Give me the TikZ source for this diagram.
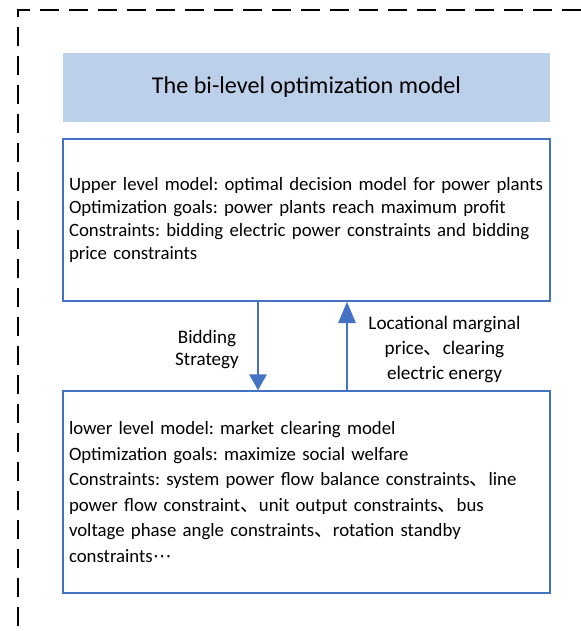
\documentclass[tikz,border=0pt]{standalone}
\usepackage{fontspec}
\setmainfont{Carlito}
\newfontfamily\cjkfont{Noto Sans CJK SC}
\newfontfamily\symfont{DejaVu Sans}
\usepackage{tikz}
\usetikzlibrary{arrows.meta}
\frenchspacing

\definecolor{boxblue}{HTML}{4472C4}
\definecolor{titlefill}{HTML}{BDD0E9}
\newcommand{\dunhao}{{\cjkfont 、}}
\newcommand{\middots}{{\symfont ⋯}}

\begin{document}
\begin{tikzpicture}[x = 0.75pt, y = -0.75pt,
    modelbox/.style = {draw = boxblue, line width = 1.1pt, rectangle, align = left,
        inner xsep = 4.5pt, text width = 356.25pt, minimum width = 365.25pt},
    flow/.style = {draw = boxblue, line width = 1.5pt},
    note/.style = {align = center, inner sep = 0pt}]
    \useasboundingbox (0, 0) rectangle (581, 631);

    %% dashed frame
    \draw[line width = 1.5pt, dash pattern = on 14.25pt off 7.5pt, dash phase = 18pt]
        (18, 660) -- (18, 10) -- (620, 10);

    %% title
    \node[fill = titlefill, minimum width = 365.25pt, minimum height = 51.75pt,
        font = \fontsize{18.1}{22}\selectfont] (title) at (306.5, 87.5)
        {The bi-level optimization model};

    %% upper and lower level models
    \node[modelbox, minimum height = 121.5pt, font = \fontsize{14.1}{17.25}\selectfont]
        (upper) at (306.5, 220)
        {Upper level model: optimal decision model for power plants\\
         Optimization goals: power plants reach maximum profit\\
         Constraints: bidding electric power constraints and bidding\\
         price constraints};
    \node[modelbox, minimum height = 151.5pt, font = \fontsize{14.1}{19.1}\selectfont]
        (lower) at (306.5, 492)
        {lower level model: market clearing model\\
         Optimization goals: maximize social welfare\\
         Constraints: system power flow balance constraints\dunhao line\\
         power flow constraint\dunhao unit output constraints\dunhao bus\\
         voltage phase angle constraints\dunhao rotation standby\\
         constraints\middots};

    %% exchange between the levels
    \coordinate (bidx) at (258, 0);
    \coordinate (lmpx) at (347, 0);
    \draw[flow, -{Triangle[length = 12pt, width = 13pt]}]
        (upper.south -| bidx) -- (lower.north -| bidx);
    \draw[flow, -{Triangle[length = 16pt, width = 13pt]}]
        (lower.north -| lmpx) -- (upper.south -| lmpx);

    \node[note, font = \fontsize{14.3}{16.5}\selectfont] (bidlabel) at (207, 350)
        {Bidding\\Strategy};
    \node[note, font = \fontsize{14.4}{18.75}\selectfont] (lmplabel) at (444.5, 349)
        {Locational marginal\\price\dunhao clearing\\electric energy};
\end{tikzpicture}
\end{document}
